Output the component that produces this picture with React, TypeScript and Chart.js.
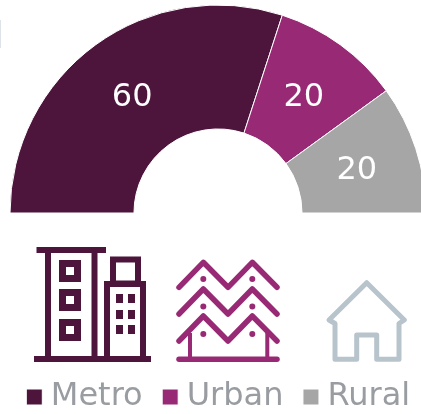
import React, { useEffect, useRef } from "react";
import { Chart, registerables } from "chart.js";

Chart.register(...registerables);

const categories = ["Metro", "Urban", "Rural"];
const values = [60, 20, 20];
const colors = ["#4D153B", "#982A75", "#A6A6A6"];
const legendTextColor = "#999DA1";
const houseColor = "#B8C4CC";
const fontFamily = "'DejaVu Sans'";

const valueLabels = {
  id: "valueLabels",
  afterDatasetsDraw(chart: any) {
    const { ctx } = chart;
    const meta = chart.getDatasetMeta(0);
    ctx.save();
    ctx.font = `32px ${fontFamily}`;
    ctx.fillStyle = "#FFFFFF";
    ctx.textAlign = "center";
    ctx.textBaseline = "middle";
    meta.data.forEach((arc: any, i: number) => {
      const p = arc.tooltipPosition();
      ctx.fillText(String(values[i]), p.x, p.y + 3);
    });
    ctx.restore();
  },
};

const legendNudge = {
  id: "legendNudge",
  afterLayout(chart: any) {
    chart.legend.left += 4;
    chart.legend.right += 4;
  },
};

function Icons() {
  const metro = colors[0];
  const urban = colors[1];
  const chevrons = [287.3, 314, 341];
  const dots = [279, 306.5, 334];
  return (
    <svg
      width={421}
      height={414}
      style={{ position: "absolute", left: 0, top: 0, pointerEvents: "none" }}
    >
      <rect x={0} y={20} width={1} height={28} fill="#DDE3E8" />
      <g fill="none" stroke={metro} strokeWidth={6}>
        <path d="M36.5 250H106M48 250V359M94.5 250V359M34 359H151" />
        <rect x={113} y={259.5} width={25} height={24} />
        <path d="M107 359V284H143V359" />
      </g>
      <g fill="none" stroke={metro} strokeWidth={7}>
        <rect x={62.5} y={263.5} width={15} height={15} />
        <rect x={62.5} y={292.5} width={15} height={15} />
        <rect x={62.5} y={322.5} width={15} height={15} />
      </g>
      <g fill={metro}>
        {[116, 128].map((x) =>
          [294, 310, 325].map((y) => (
            <rect key={`${x}-${y}`} x={x} y={y} width={7} height={9} />
          ))
        )}
      </g>
      <g fill="none" stroke={urban} strokeWidth={5.5} strokeLinecap="round" strokeLinejoin="round">
        {chevrons.map((y) => (
          <polyline
            key={y}
            points={`179,${y} 203.3,${y - 25} 228,${y} 252.3,${y - 25} 277,${y}`}
          />
        ))}
        <path d="M179 359.3H277" />
      </g>
      <path d="M190 333V358M267.3 333V358" stroke={urban} strokeWidth={4} fill="none" />
      <g fill={urban}>
        {dots.map((y) =>
          [203.3, 252.3].map((x) => <circle key={`${x}-${y}`} cx={x} cy={y} r={3} />)
        )}
      </g>
      <path
        d="M366.7 282.7L329 320L335 323.5V359.3H356.7V335H376.7V359.3H399V323.5L404.3 320Z"
        fill="none"
        stroke={houseColor}
        strokeWidth={5}
        strokeLinejoin="round"
      />
    </svg>
  );
}

export default function App() {
  const ref = useRef<HTMLCanvasElement>(null);
  useEffect(() => {
    document.body.style.margin = "0";
    const chart = new Chart(ref.current!, {
      type: "doughnut",
      data: {
        labels: categories,
        datasets: [
          {
            data: values,
            backgroundColor: colors,
            borderColor: "#FFFFFF",
            borderWidth: 1,
          },
        ],
      },
      options: {
        animation: false,
        responsive: false,
        rotation: -90,
        circumference: 180,
        cutout: "40.4%",
        radius: 208,
        plugins: {
          tooltip: { enabled: false },
          legend: {
            position: "bottom",
            labels: {
              usePointStyle: true,
              pointStyle: "rect",
              boxWidth: 1,
              boxHeight: 16,
              padding: 27,
              color: legendTextColor,
              font: { family: fontFamily, size: 32 },
            },
          },
        },
      },
      plugins: [valueLabels, legendNudge],
    } as any);
    return () => chart.destroy();
  }, []);
  return (
    <div style={{ position: "relative", width: 421, height: 414, overflow: "hidden", background: "#fff" }}>
      <canvas
        ref={ref}
        width={436}
        height={559}
        style={{ display: "block", position: "absolute", left: 0, top: -136 }}
      />
      <Icons />
    </div>
  );
}
